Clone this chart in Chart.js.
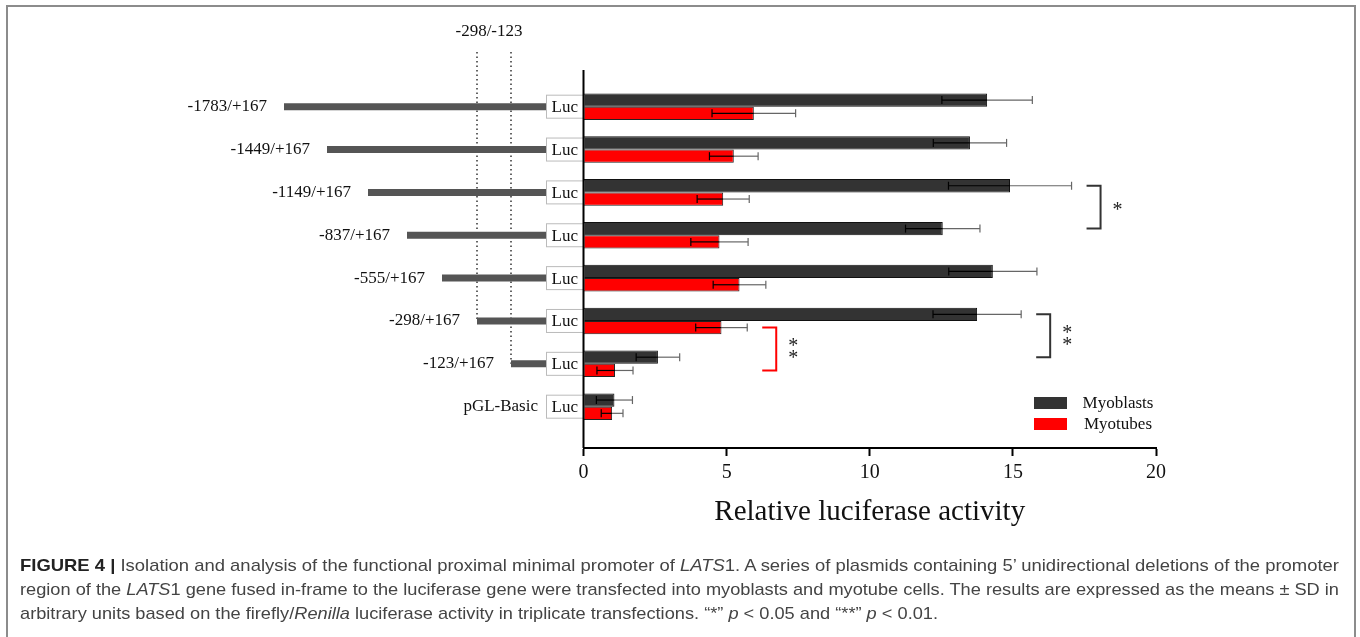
<!DOCTYPE html>
<html>
<head>
<meta charset="utf-8">
<script src="https://cdn.jsdelivr.net/npm/chart.js@4.4.1/dist/chart.umd.min.js"></script>
<style>
  html, body { margin: 0; padding: 0; background: #fff; }
  #wrap { position: relative; width: 1360px; height: 637px; overflow: hidden; }
  #frame { position: absolute; left: 6px; top: 5px; width: 1350px; height: 700px; border: 2px solid #8c8c8c; border-bottom: none; box-sizing: border-box; }
  canvas { position: absolute; left: 0; top: 0; }
  #caption { position: absolute; left: 20px; top: 554px; font-family: "Liberation Sans", Arial, sans-serif; font-size: 17px; color: #444; line-height: 24px; }
  #caption .ln { white-space: nowrap; transform-origin: 0 0; width: max-content; }
  #caption b { color: #222; }
</style>
</head>
<body>
<div id="wrap">
  <div id="frame"></div>
  <canvas id="chart" width="1360" height="637"></canvas>
  <div id="caption">
    <div class="ln" data-w="1319"><b>FIGURE 4 |</b> Isolation and analysis of the functional proximal minimal promoter of <i>LATS</i>1. A series of plasmids containing 5’ unidirectional deletions of the promoter</div>
    <div class="ln" data-w="1319">region of the <i>LATS</i>1 gene fused in-frame to the luciferase gene were transfected into myoblasts and myotube cells. The results are expressed as the means ± SD in</div>
    <div class="ln" data-w="918">arbitrary units based on the firefly/<i>Renilla</i> luciferase activity in triplicate transfections. “*” <i>p</i> &lt; 0.05 and “**” <i>p</i> &lt; 0.01.</div>
  </div>
</div>
<script>
// ---- data ----
const constructs = ["-1783/+167", "-1449/+167", "-1149/+167", "-837/+167", "-555/+167", "-298/+167", "-123/+167", "pGL-Basic"];
const myoblasts = [14.1, 13.5, 14.9, 12.55, 14.3, 13.75, 2.6, 1.08];
const myoblastsSd = [1.58, 1.28, 2.15, 1.3, 1.54, 1.54, 0.76, 0.63];
const myotubes = [5.95, 5.25, 4.88, 4.75, 5.45, 4.82, 1.1, 1.0];
const myotubesSd = [1.46, 0.85, 0.91, 1.0, 0.92, 0.9, 0.63, 0.38];
const xTicks = [0, 5, 10, 15, 20];
const regionLabel = "-298/-123";
// significance brackets: rows compared, series (0 myoblasts, 1 myotubes), mark
const sigRows = [[2, 3], [5, 6], [5, 6]];
const sigSeries = [0, 0, 1];
const sigMarks = ["*", "**", "**"];

// ---- layout of the promoter scheme (pixels) ----
const lineStart = [284, 327, 368, 407, 442, 477, 511, null];
const LUC_LEFT = 546;
const SERIF = "'Liberation Serif', 'Times New Roman', serif";
const colors = ["#333333", "#ff0000"];

Chart.defaults.font.family = SERIF;

function seg(ctx, x1, y1, x2, y2) {
  ctx.beginPath();
  ctx.moveTo(x1, y1);
  ctx.lineTo(x2, y2);
  ctx.stroke();
}

const schemePlugin = {
  id: "scheme",
  afterDatasetsDraw(chart) {
    const ctx = chart.ctx;
    const xs = chart.scales.x, ys = chart.scales.y, area = chart.chartArea;
    const means = [myoblasts, myotubes], sds = [myoblastsSd, myotubesSd];
    ctx.save();

    // dotted guide lines for the -298 / -123 region
    ctx.strokeStyle = "#333";
    ctx.lineWidth = 1.5;
    ctx.setLineDash([1.5, 3]);
    seg(ctx, lineStart[5], 52, lineStart[5], ys.getPixelForValue(5));
    seg(ctx, lineStart[6], 52, lineStart[6], ys.getPixelForValue(6));
    ctx.setLineDash([]);
    ctx.fillStyle = "#111";
    ctx.font = "17px " + SERIF;
    ctx.textAlign = "center";
    ctx.textBaseline = "middle";
    ctx.fillText(regionLabel, 489, 32);

    // constructs: grey promoter bar, label, Luc box
    constructs.forEach((name, i) => {
      const cy = ys.getPixelForValue(i);
      let labelRight = LUC_LEFT - 8;
      if (lineStart[i] !== null) {
        ctx.strokeStyle = "#555";
        ctx.lineWidth = 7;
        seg(ctx, lineStart[i], cy, LUC_LEFT, cy);
        labelRight = lineStart[i] - 17;
      }
      ctx.fillStyle = "#111";
      ctx.font = "17px " + SERIF;
      ctx.textAlign = "right";
      ctx.textBaseline = "middle";
      ctx.fillText(name, labelRight, cy);

      ctx.fillStyle = "#fff";
      ctx.fillRect(LUC_LEFT, cy - 11.5, area.left - LUC_LEFT, 23);
      ctx.strokeStyle = "#bbb";
      ctx.lineWidth = 1;
      ctx.strokeRect(LUC_LEFT + 0.5, cy - 11.5, area.left - LUC_LEFT, 23);
      ctx.fillStyle = "#111";
      ctx.textAlign = "center";
      ctx.fillText("Luc", (LUC_LEFT + area.left) / 2, cy + 1);
    });

    // y axis line
    ctx.strokeStyle = "#000";
    ctx.lineWidth = 2;
    seg(ctx, area.left, area.top, area.left, area.bottom);

    // error bars: black inside the bar, grey outside
    ctx.lineWidth = 1.2;
    [0, 1].forEach(d => {
      chart.getDatasetMeta(d).data.forEach((el, i) => {
        const x1 = xs.getPixelForValue(means[d][i] - sds[d][i]);
        const x2 = xs.getPixelForValue(means[d][i] + sds[d][i]);
        ctx.strokeStyle = "#666";
        seg(ctx, el.x, el.y, x2, el.y);
        seg(ctx, x2, el.y - 4, x2, el.y + 4);
        ctx.strokeStyle = "#000";
        seg(ctx, x1, el.y, el.x, el.y);
        seg(ctx, x1, el.y - 4, x1, el.y + 4);
      });
    });

    // significance brackets
    sigRows.forEach((rows, k) => {
      const d = sigSeries[k];
      const meta = chart.getDatasetMeta(d);
      const ya = meta.data[rows[0]].y, yb = meta.data[rows[1]].y;
      const top = Math.max(...rows.map(r => means[d][r] + sds[d][r]));
      const bx = xs.getPixelForValue(top) + 15;
      ctx.strokeStyle = d === 0 ? "#333" : "#ff0000";
      ctx.lineWidth = 2;
      ctx.beginPath();
      ctx.moveTo(bx, ya);
      ctx.lineTo(bx + 14, ya);
      ctx.lineTo(bx + 14, yb);
      ctx.lineTo(bx, yb);
      ctx.stroke();
      const mid = (ya + yb) / 2;
      ctx.fillStyle = "#222";
      ctx.font = "20px " + SERIF;
      ctx.textAlign = "center";
      ctx.textBaseline = "alphabetic";
      const n = sigMarks[k].length;
      for (let j = 0; j < n; j++) {
        const sy = mid + (j - (n - 1) / 2) * 12;
        ctx.fillText("*", bx + 31, sy + 9);
      }
    });

    // legend
    const names = chart.data.datasets.map(ds => ds.label);
    names.forEach((nm, j) => {
      const ly = 403 + j * 21;
      ctx.fillStyle = colors[j];
      ctx.fillRect(1034, ly - 6, 33, 12);
      ctx.fillStyle = "#111";
      ctx.font = "17px " + SERIF;
      ctx.textAlign = "center";
      ctx.textBaseline = "middle";
      ctx.fillText(nm, 1118, ly + 1);
    });

    ctx.restore();
  }
};

new Chart(document.getElementById("chart"), {
  type: "bar",
  data: {
    datasets: [
      {
        label: "Myoblasts",
        data: myoblasts.map((v, i) => ({ x: v, y: i })),
        backgroundColor: colors[0],
        borderColor: "#111",
        borderWidth: 1,
      },
      {
        label: "Myotubes",
        data: myotubes.map((v, i) => ({ x: v, y: i })),
        backgroundColor: colors[1],
        borderColor: "#222",
        borderWidth: 1,
      },
    ],
  },
  options: {
    indexAxis: "y",
    responsive: false,
    animation: false,
    devicePixelRatio: 1,
    categoryPercentage: 0.62,
    barPercentage: 1,
    layout: { padding: { left: 583.5, right: 204, top: 70, bottom: 110 } },
    scales: {
      y: {
        type: "linear",
        display: false,
        offset: false,
        bounds: "data",
        reverse: true,
        min: -0.856,
        max: 7.964,
        afterBuildTicks: (s) => { s.ticks = constructs.map((c, i) => ({ value: i })); },
      },
      x: {
        type: "linear",
        min: xTicks[0],
        max: xTicks[xTicks.length - 1],
        afterFit: (s) => { s.height = 79; },
        afterBuildTicks: (s) => { s.ticks = xTicks.map(v => ({ value: v })); },
        ticks: { font: { size: 20 }, color: "#111", padding: 5, maxRotation: 0 },
        grid: { drawOnChartArea: false, tickLength: 8, color: "#000", tickWidth: 2 },
        border: { color: "#000", width: 2 },
        title: {
          display: true,
          text: "Relative luciferase activity",
          font: { size: 29, lineHeight: 1 },
          color: "#111",
          padding: 0,
        },
      },
    },
    plugins: { legend: { display: false }, tooltip: { enabled: false } },
  },
  plugins: [schemePlugin],
});

// squeeze caption lines to the widths of the printed figure
function fitCaption() {
  document.querySelectorAll("#caption .ln").forEach(ln => {
    ln.style.transform = "none";
    const w = ln.getBoundingClientRect().width;
    ln.style.transform = "scaleX(" + (Number(ln.dataset.w) / w) + ")";
  });
}
fitCaption();
document.fonts.ready.then(fitCaption);
</script>
</body>
</html>
